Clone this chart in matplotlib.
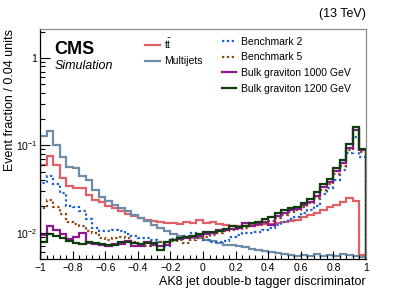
import numpy as np
import matplotlib
matplotlib.use("Agg")
import matplotlib.pyplot as plt
from matplotlib.ticker import FixedLocator, MultipleLocator, LogLocator, NullFormatter

plt.rcParams['font.family'] = ['Liberation Sans', 'DejaVu Sans']
plt.rcParams['mathtext.fontset'] = 'custom'
plt.rcParams['mathtext.rm'] = 'Liberation Sans'
plt.rcParams['mathtext.it'] = 'Liberation Sans:italic'

# 50 bins of width 0.04 between -1 and 1
bin_edges = np.linspace(-1, 1, 51)

ttbar = [0.0597, 0.0757, 0.0597, 0.0424, 0.0343, 0.0326, 0.0326, 0.0271, 0.0237, 0.0225,
         0.0203, 0.0192, 0.0177, 0.0164, 0.0156, 0.0148, 0.0140, 0.0136, 0.0133, 0.0129,
         0.0129, 0.0126, 0.0133, 0.0129, 0.0140, 0.0129, 0.0133, 0.0126, 0.0123, 0.0120,
         0.0120, 0.0120, 0.0123, 0.0123, 0.0126, 0.0126, 0.0129, 0.0133, 0.0136, 0.0140,
         0.0152, 0.0160, 0.0169, 0.0182, 0.0197, 0.0208, 0.0225, 0.0250, 0.0231, 0.0056]

multijets = [0.128, 0.146, 0.101, 0.0737, 0.0566, 0.0551, 0.0447, 0.0402, 0.0309, 0.0257,
             0.0231, 0.0208, 0.0192, 0.0177, 0.0160, 0.0148, 0.0136, 0.0123, 0.0114, 0.0105,
             0.0097, 0.0092, 0.0090, 0.0087, 0.0087, 0.0083, 0.0081, 0.0076, 0.0072, 0.0072,
             0.0071, 0.0069, 0.0065, 0.0064, 0.0062, 0.0060, 0.0059, 0.0057, 0.0056, 0.0054,
             0.0056, 0.0054, 0.0057, 0.0054, 0.0056, 0.0054, 0.0057, 0.0056, 0.0054, 0.0053]

bm2 = [0.0371, 0.0447, 0.0362, 0.0285, 0.0203, 0.0197, 0.0177, 0.0144, 0.0114, 0.0105,
       0.0105, 0.0108, 0.0105, 0.0097, 0.0092, 0.0087, 0.0087, 0.0083, 0.0078, 0.0071,
       0.0085, 0.0087, 0.0092, 0.0100, 0.0092, 0.0083, 0.0078, 0.0078, 0.0081, 0.0090,
       0.0094, 0.0100, 0.0100, 0.0102, 0.0108, 0.0114, 0.0123, 0.0133, 0.0144, 0.0152,
       0.0169, 0.0182, 0.0203, 0.0278, 0.0326, 0.0402, 0.0523, 0.0818, 0.1248, 0.0737]

bm5 = [0.0192, 0.0237, 0.0197, 0.0164, 0.0133, 0.0126, 0.0120, 0.0105, 0.0100, 0.0087,
       0.0083, 0.0087, 0.0090, 0.0087, 0.0078, 0.0072, 0.0071, 0.0072, 0.0078, 0.0076,
       0.0081, 0.0083, 0.0076, 0.0083, 0.0087, 0.0090, 0.0094, 0.0100, 0.0105, 0.0108,
       0.0111, 0.0114, 0.0120, 0.0123, 0.0129, 0.0136, 0.0148, 0.0160, 0.0173, 0.0182,
       0.0197, 0.0219, 0.0250, 0.0309, 0.0362, 0.0471, 0.0581, 0.0886, 0.150, 0.0840]

grav1000 = [0.0094, 0.0120, 0.0108, 0.0097, 0.0085, 0.0090, 0.0100, 0.0076, 0.0074, 0.0072,
            0.0071, 0.0074, 0.0074, 0.0081, 0.0071, 0.0071, 0.0078, 0.0072, 0.0071, 0.0072,
            0.0083, 0.0085, 0.0087, 0.0090, 0.0092, 0.0097, 0.0100, 0.0108, 0.0108, 0.0111,
            0.0114, 0.0129, 0.0120, 0.0126, 0.0133, 0.0123, 0.0156, 0.0169, 0.0182, 0.0187,
            0.0208, 0.0225, 0.0264, 0.0334, 0.0381, 0.0509, 0.0629, 0.0934, 0.150, 0.0886]

grav1200 = [0.0078, 0.0097, 0.0092, 0.0087, 0.0081, 0.0076, 0.0074, 0.0078, 0.0076, 0.0074,
            0.0072, 0.0072, 0.0078, 0.0078, 0.0076, 0.0074, 0.0076, 0.0076, 0.0064, 0.0078,
            0.0083, 0.0087, 0.0090, 0.0092, 0.0097, 0.0102, 0.0102, 0.0105, 0.0111, 0.0120,
            0.0116, 0.0120, 0.0129, 0.0133, 0.0144, 0.0152, 0.0169, 0.0182, 0.0192, 0.0197,
            0.0219, 0.0244, 0.0293, 0.0362, 0.0413, 0.0551, 0.0681, 0.1038, 0.1624, 0.0910]

x_ticks = [-1, -0.8, -0.6, -0.4, -0.2, 0, 0.2, 0.4, 0.6, 0.8, 1]
x_tick_labels = ['\u22121', '\u22120.8', '\u22120.6', '\u22120.4', '\u22120.2', '0',
                 '0.2', '0.4', '0.6', '0.8', '1']
y_ticks = [0.01, 0.1, 1]
y_tick_labels = ['$10^{-2}$', '$10^{-1}$', '1']

fig = plt.figure(figsize=(4.07, 2.92), dpi=100)
ax = fig.add_axes([40 / 407, 33 / 292, 326 / 407, 230 / 292])

lw = 1.6
ax.stairs(ttbar, bin_edges, color='#e06068', lw=lw, label=r'$\mathrm{t\bar{t}}$')
ax.stairs(multijets, bin_edges, color='#6f8ca6', lw=lw, label='Multijets')
ax.stairs(bm2, bin_edges, color='#1d5fcf', lw=lw, ls=(0, (1, 1.2)), label='Benchmark 2')
ax.stairs(bm5, bin_edges, color='#8a4a14', lw=lw, ls=(0, (1, 1.2)), label='Benchmark 5')
ax.stairs(grav1000, bin_edges, color='#8a1a8e', lw=lw, label='Bulk graviton 1000 GeV')
ax.stairs(grav1200, bin_edges, color='#0e3d0e', lw=lw, label='Bulk graviton 1200 GeV')

ax.set_yscale('log')
ax.set_xlim(-1, 1)
ax.set_ylim(0.005, 2.15)

ax.xaxis.set_major_locator(FixedLocator(x_ticks))
ax.set_xticks(x_ticks, x_tick_labels)
ax.xaxis.set_minor_locator(MultipleLocator(0.04))
ax.set_yticks(y_ticks, y_tick_labels)
ax.yaxis.set_minor_locator(LogLocator(base=10, subs=np.arange(2, 10)))
ax.yaxis.set_minor_formatter(NullFormatter())

ax.tick_params(axis='both', which='both', direction='in', labelsize=7.5, color='black')
ax.tick_params(axis='y', which='major', length=7, width=0.8, pad=2)
ax.tick_params(axis='y', which='minor', length=3.5, width=0.8)
ax.tick_params(axis='x', which='major', length=6, width=0.8, pad=3)
ax.tick_params(axis='x', which='minor', length=3, width=0.8)
ax.tick_params(top=False, right=False)

for side in ['top', 'right']:
    ax.spines[side].set_color('#8c8c8c')
for side in ax.spines:
    ax.spines[side].set_linewidth(0.9)

ax.set_xlabel('AK8 jet double-b tagger discriminator', fontsize=9, loc='right', labelpad=2)
fig.text(10 / 407, 1 - 29 / 292, 'Event fraction / 0.04 units', fontsize=9,
         rotation=90, ha='center', va='top')

ax.text(0.045, 0.95, 'CMS', transform=ax.transAxes, fontsize=13, fontweight='bold',
        va='top', ha='left')
ax.text(0.045, 0.865, 'Simulation', transform=ax.transAxes, fontsize=9, style='italic',
        va='top', ha='left')
fig.text(366 / 407, 1 - 14 / 292, '(13 TeV)', fontsize=9, ha='right', va='center')

handles, labels = ax.get_legend_handles_labels()
leg1 = ax.legend(handles[:2], labels[:2], loc='upper left', bbox_to_anchor=(0.31, 0.985),
                 frameon=False, fontsize=7.5, handlelength=1.4, handletextpad=0.4,
                 labelspacing=0.55, borderaxespad=0)
ax.add_artist(leg1)
ax.legend(handles[2:], labels[2:], loc='upper left', bbox_to_anchor=(0.545, 0.985),
          frameon=False, fontsize=7.5, handlelength=1.4, handletextpad=0.4,
          labelspacing=0.55, borderaxespad=0)

fig.savefig('out.png', dpi=100)
